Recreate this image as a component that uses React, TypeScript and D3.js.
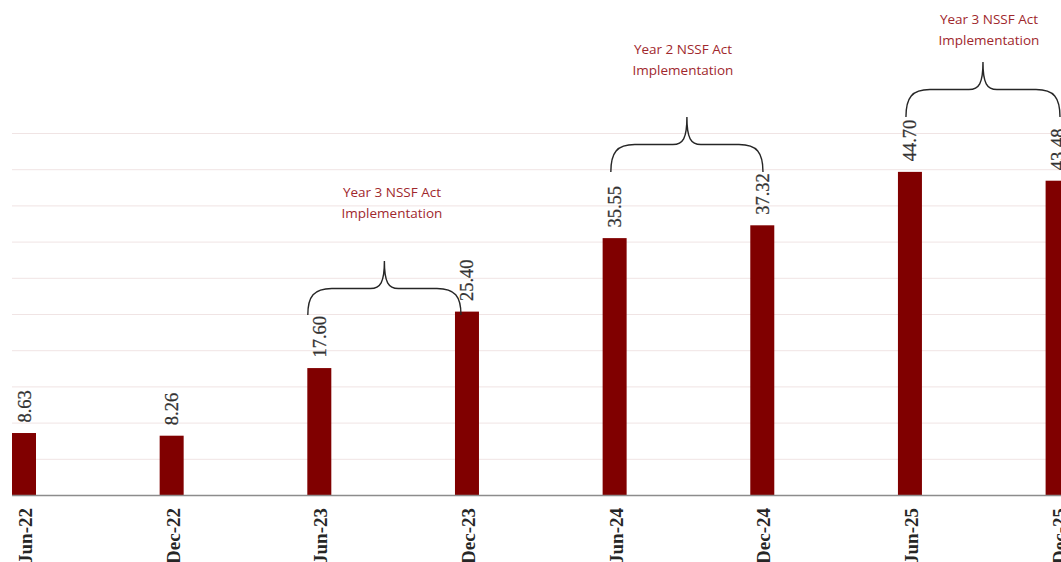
import React from "react";
import * as d3 from "d3";

const categories = ["Jun-22", "Dec-22", "Jun-23", "Dec-23", "Jun-24", "Dec-24", "Jun-25", "Dec-25"];
const values = [8.63, 8.26, 17.6, 25.4, 35.55, 37.32, 44.7, 43.48];
const gridTicks = [0, 5, 10, 15, 20, 25, 30, 35, 40, 45, 50];

const annotationLines = [
  ["Year 3 NSSF Act", "Implementation"],
  ["Year 2 NSSF Act", "Implementation"],
  ["Year 3 NSSF Act", "Implementation"],
];
const annotationFrom = ["Jun-23", "Jun-24", "Jun-25"];
const annotationTo = ["Dec-23", "Dec-24", "Dec-25"];

// layout (pixels)
const W = 1061;
const H = 562;
const braceGeom = [
  { dx0: -11.5, dx1: -6, yEnd: 315, yMid: 288.5, yPeak: 261, tx: 392, ty: 197 },
  { dx0: -3.8, dx1: 0.7, yEnd: 172, yMid: 144.5, yPeak: 117, tx: 683, ty: 54 },
  { dx0: -4, dx1: 2.4, yEnd: 117, yMid: 89.5, yPeak: 62, tx: 989, ty: 24 },
];

export default function App() {
  const x = d3.scalePoint<string>().domain(categories).range([24, 1057.6]);
  const y = d3.scaleLinear().domain([0, 50]).range([495.5, 133.5]);
  const barW = 24;

  const bracePath = (x0: number, x1: number, yEnd: number, yMid: number, yPeak: number) => {
    const xp = (x0 + x1) / 2;
    const r = 24;
    const r2 = 14;
    const p = d3.path();
    p.moveTo(x0, yEnd);
    p.bezierCurveTo(x0, yMid + 8, x0 + 6, yMid, x0 + r, yMid);
    p.lineTo(xp - r2, yMid);
    p.bezierCurveTo(xp - 4, yMid, xp, yMid - 6, xp, yPeak);
    p.bezierCurveTo(xp, yMid - 6, xp + 4, yMid, xp + r2, yMid);
    p.lineTo(x1 - r, yMid);
    p.bezierCurveTo(x1 - 6, yMid, x1, yMid + 8, x1, yEnd);
    return p.toString();
  };

  return (
    <div style={{ position: "absolute", left: 0, top: 0 }}>
      <svg width={W} height={H} style={{ display: "block", overflow: "hidden" }}>
        <rect width={W} height={H} fill="#ffffff" />
        {gridTicks.slice(1).map((t) => (
          <line key={t} x1={12} x2={W} y1={y(t)} y2={y(t)} stroke="#f0e4e4" strokeWidth={1} />
        ))}
        {categories.map((c, i) => (
          <rect
            key={c}
            x={(x(c) as number) - barW / 2}
            y={y(values[i])}
            width={barW}
            height={y(0) - y(values[i])}
            fill="#800000"
          />
        ))}
        <line x1={12} x2={W} y1={y(0)} y2={y(0)} stroke="#8c8c8c" strokeWidth={1.5} />
        {categories.map((c, i) => (
          <text
            key={"v" + c}
            transform={`translate(${(x(c) as number) + 6.5},${y(values[i]) - 10.5}) rotate(-90)`}
            fontFamily="'Liberation Serif', serif"
            fontSize={18.5}
            fill="#333333"
            stroke="#333333"
            strokeWidth={0.25}
            textAnchor="start"
          >
            {values[i].toFixed(2)}
          </text>
        ))}
        {categories.map((c) => (
          <text
            key={"l" + c}
            transform={`translate(${(x(c) as number) + 8},${508}) rotate(-90)`}
            fontFamily="'Liberation Serif', serif"
            fontSize={19}
            fontWeight="bold"
            fill="#262626"
            textAnchor="end"
          >
            {c}
          </text>
        ))}
        {annotationLines.map((lines, k) => {
          const g = braceGeom[k];
          const x0 = (x(annotationFrom[k]) as number) + g.dx0;
          const x1 = (x(annotationTo[k]) as number) + g.dx1;
          return (
            <g key={"a" + k}>
              <path
                d={bracePath(x0, x1, g.yEnd, g.yMid, g.yPeak)}
                fill="none"
                stroke="#262626"
                strokeWidth={1.4}
              />
              {lines.map((ln, j) => (
                <text
                  key={j}
                  x={g.tx}
                  y={g.ty + j * 20.5}
                  textAnchor="middle"
                  fontFamily="'Open Sans', sans-serif"
                  fontSize={13.5}
                  fill="#a0282d"
                >
                  {ln}
                </text>
              ))}
            </g>
          );
        })}
      </svg>
    </div>
  );
}
